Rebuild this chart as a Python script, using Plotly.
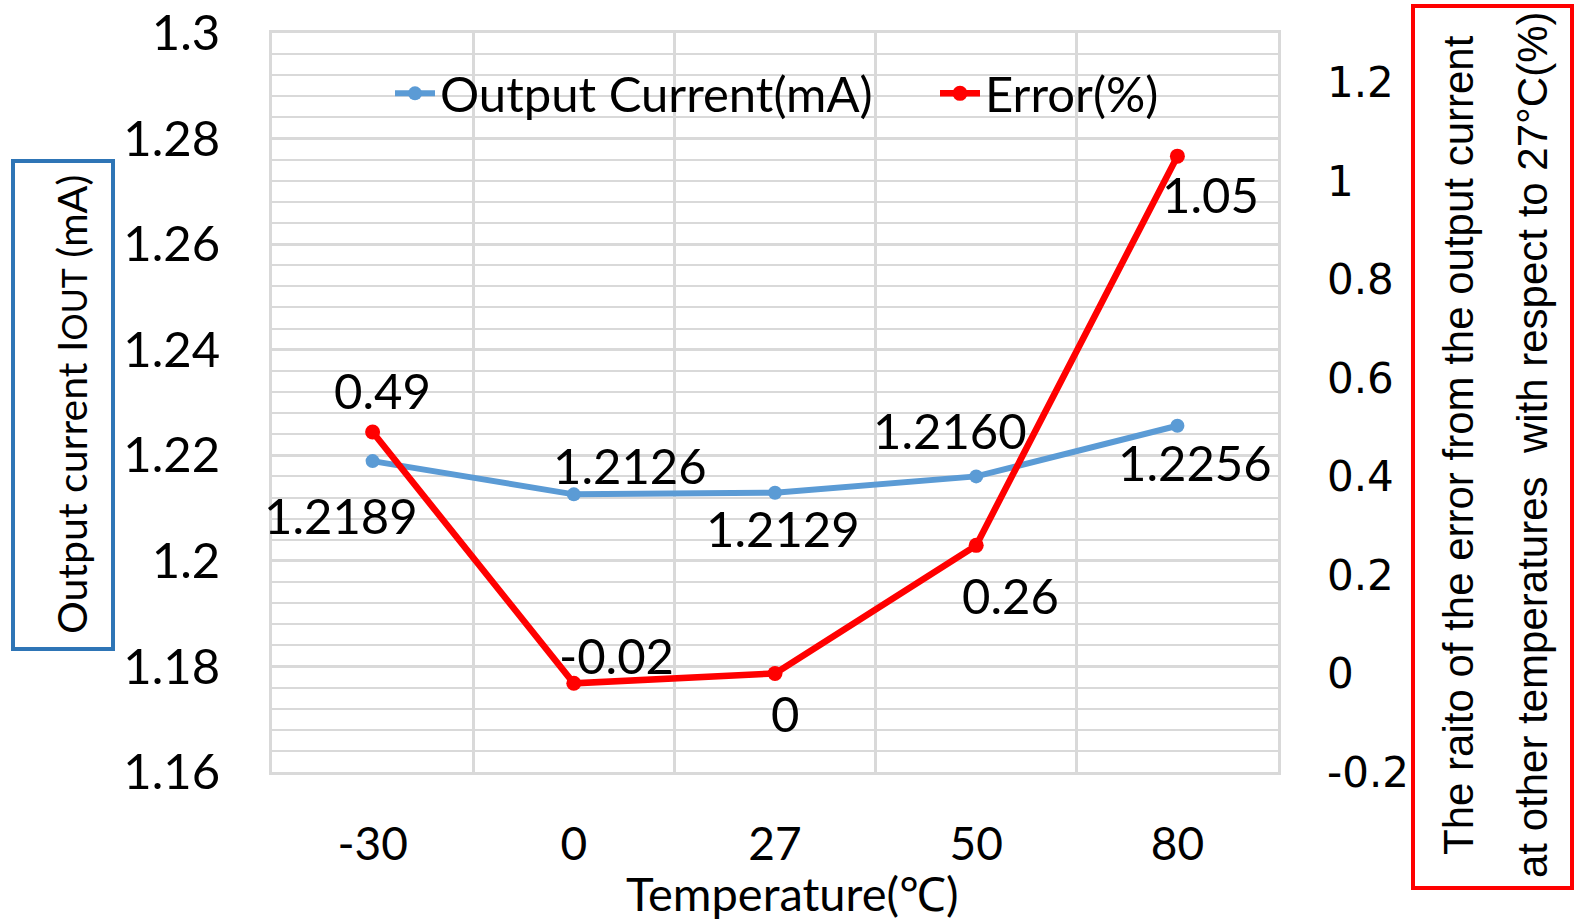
import plotly.graph_objects as go

# Temperature sweep and measured results
temps = ["-30", "0", "27", "50", "80"]
output_current = [1.2189, 1.2126, 1.2129, 1.2160, 1.2256]   # mA
error_pct = [0.49, -0.02, 0, 0.26, 1.05]                     # % relative to 27 °C

current_labels = ["1.2189", "1.2126", "1.2129", "1.2160", "1.2256"]
error_labels = ["0.49", "-0.02", "0", "0.26", "1.05"]

# label offsets (pixels) relative to each marker
current_shift = [(-32, -54), (56, 29), (8, -35), (-26, 46), (18, -36)]
error_shift = [(10, 42), (43, 28), (10, -40), (34, -50), (33, -38)]

W, H = 1576, 922
L, R, T, B = 272, 1278, 33, 772
BLUE = "#5B9BD5"
RED = "#FF0000"
GRID = "#D9D9D9"
FONT = "Lato, Carlito, Calibri, sans-serif"
NARROW = "Liberation Sans Narrow, Arial Narrow, Liberation Sans, Arial, sans-serif"
FS = 49


def px(x):
    return (x - L) / (R - L)


def py(y):
    return (B - y) / (B - T)


fig = go.Figure()
fig.add_trace(go.Scatter(
    x=temps, y=output_current, name="Output Current(mA)", legend="legend",
    mode="lines+markers", line=dict(color=BLUE, width=6),
    marker=dict(color=BLUE, size=14), yaxis="y"))
fig.add_trace(go.Scatter(
    x=temps, y=error_pct, name="Error(%)", legend="legend2",
    mode="lines+markers", line=dict(color=RED, width=6.5),
    marker=dict(color=RED, size=15), yaxis="y2"))

annotations = []
# category positions are addressed by index on the category axis
for i, (v, s, (dx, dy)) in enumerate(zip(output_current, current_labels, current_shift)):
    annotations.append(dict(x=i, y=v, xref="x", yref="y", text=s, showarrow=False,
                            xanchor="center", yanchor="middle",
                            xshift=dx, yshift=dy, font=dict(size=FS, color="black", family=FONT)))
for i, (v, s, (dx, dy)) in enumerate(zip(error_pct, error_labels, error_shift)):
    annotations.append(dict(x=i, y=v, xref="x", yref="y2", text=s, showarrow=False,
                            xanchor="center", yanchor="middle",
                            xshift=dx, yshift=dy, font=dict(size=FS, color="black", family=FONT)))

# axis titles
annotations.append(dict(x=px(792), y=py(893), xref="paper", yref="paper",
                        xanchor="center", yanchor="middle",
                        text="Temperature(℃)", showarrow=False,
                        font=dict(size=47, color="black", family=FONT)))
annotations.append(dict(x=px(71), y=py(405), xref="paper", yref="paper",
                        xanchor="center", yanchor="middle",
                        text='Output current I<span style="font-size:34px">OUT</span> (mA)',
                        textangle=-90, showarrow=False,
                        font=dict(size=41, color="black", family=FONT)))
annotations.append(dict(x=px(1458), y=py(445), xref="paper", yref="paper",
                        xanchor="center", yanchor="middle",
                        text="The raito of the error from the output current",
                        textangle=-90, showarrow=False,
                        font=dict(size=42, color="black", family=NARROW)))
annotations.append(dict(x=px(1532), y=py(445), xref="paper", yref="paper",
                        xanchor="center", yanchor="middle",
                        text="at other temperatures  with respect to 27°C(%)",
                        textangle=-90, showarrow=False,
                        font=dict(size=42, color="black", family=NARROW)))

shapes = [
    dict(type="rect", xref="paper", yref="paper", x0=px(13), x1=px(113), y0=py(161), y1=py(649),
         line=dict(color="#2E75B6", width=4)),
    dict(type="rect", xref="paper", yref="paper", x0=px(1413), x1=px(1572), y0=py(6), y1=py(888),
         line=dict(color=RED, width=4)),
]

legend_style = dict(orientation="h", xanchor="left", yanchor="top",
                    font=dict(size=FS, color="black", family=FONT),
                    bgcolor="rgba(0,0,0,0)", itemwidth=40)

fig.update_layout(
    width=W, height=H,
    margin=dict(l=L, r=W - R, t=T, b=H - B),
    paper_bgcolor="white", plot_bgcolor="white",
    font=dict(family=FONT, color="black"),
    showlegend=True,
    legend=dict(x=px(390), y=py(55), **legend_style),
    legend2=dict(x=px(935), y=py(55), **legend_style),
    xaxis=dict(type="category", range=[-0.5, 4.5], tickson="boundaries", automargin=False,
               showgrid=True, gridcolor=GRID, gridwidth=3,
               showline=True, linecolor=GRID, linewidth=3, mirror=True,
               ticks="", ticklabelstandoff=30,
               tickfont=dict(size=46, color="black", family=FONT), zeroline=False),
    yaxis=dict(range=[1.16, 1.3], showgrid=True, automargin=False,
               gridcolor=GRID, gridwidth=3, zeroline=False,
               showline=True, linecolor=GRID, linewidth=3, mirror=True,
               ticks="", ticklabelstandoff=39,
               minor=dict(dtick=0.004, showgrid=True, gridcolor=GRID, gridwidth=2),
               tickvals=[1.16, 1.18, 1.2, 1.22, 1.24, 1.26, 1.28, 1.3],
               ticktext=["1.16", "1.18", "1.2", "1.22", "1.24", "1.26", "1.28", "1.3"],
               tickfont=dict(size=FS, color="black", family=FONT)),
    yaxis2=dict(range=[-0.2, 1.3], overlaying="y", side="right", automargin=False,
                tickvals=[-0.2, 0, 0.2, 0.4, 0.6, 0.8, 1, 1.2],
                ticktext=["-0.2", "0", "0.2", "0.4", "0.6", "0.8", "1", "1.2"],
                showgrid=False, zeroline=False, ticks="", ticklabelstandoff=48,
                tickfont=dict(size=42, color="black", family="DejaVu Sans, Verdana, sans-serif")),
    annotations=annotations,
    shapes=shapes,
)

fig.write_html("out.html")
